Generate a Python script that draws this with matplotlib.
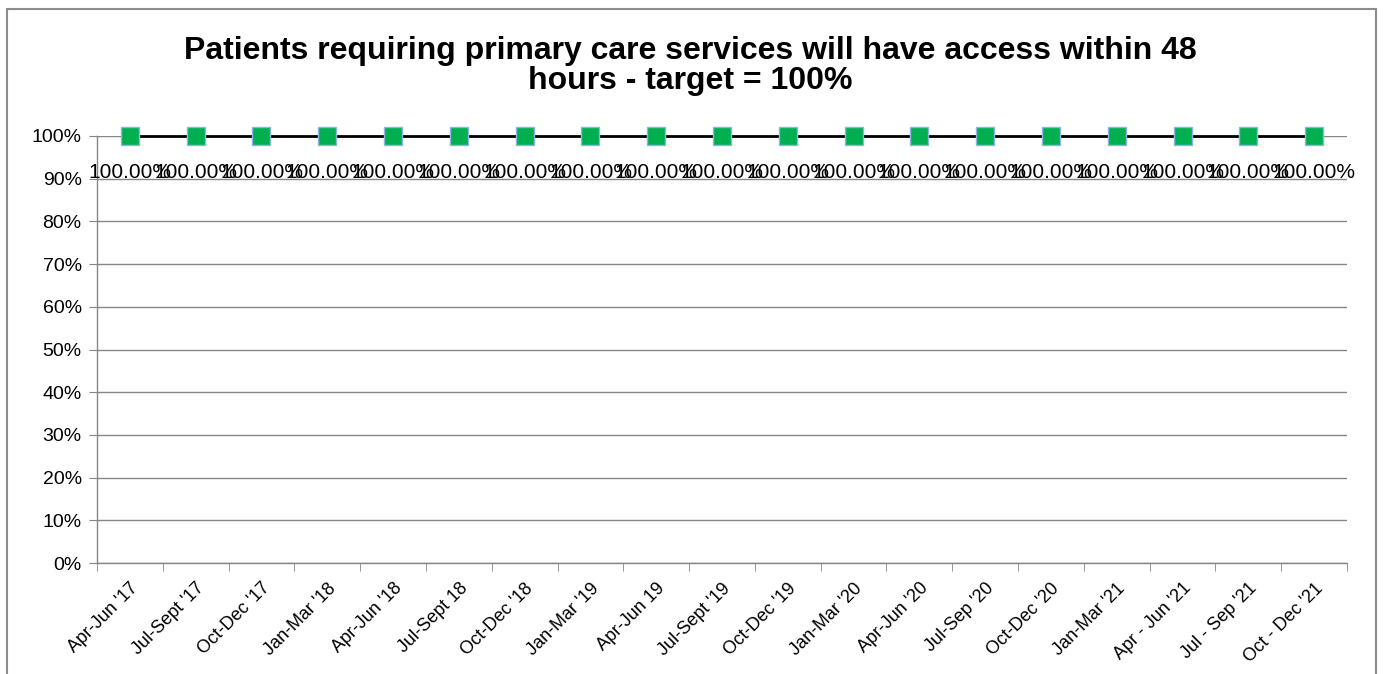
import matplotlib
matplotlib.use("Agg")
import matplotlib.pyplot as plt
import matplotlib.transforms as mtransforms
from matplotlib.patches import Rectangle
from matplotlib.ticker import FixedLocator

plt.rcParams['font.family'] = ['Liberation Sans', 'DejaVu Sans']

# quarter labels and values (percent)
quarters = [
    "Apr-Jun '17", "Jul-Sept '17", "Oct-Dec '17", "Jan-Mar '18", "Apr-Jun '18",
    "Jul-Sept 18", "Oct-Dec '18", "Jan-Mar '19", "Apr-Jun 19", "Jul-Sept '19",
    "Oct-Dec '19", "Jan-Mar '20", "Apr-Jun '20", "Jul-Sep '20", "Oct-Dec '20",
    "Jan-Mar '21", "Apr - Jun '21", "Jul - Sep '21", "Oct - Dec '21",
]
values = [100.0] * 19
y_ticks = [0, 10, 20, 30, 40, 50, 60, 70, 80, 90, 100]
title = "Patients requiring primary care services will have access within 48\nhours - target = 100%"

W, H = 1383, 674
fig = plt.figure(figsize=(W / 100, H / 100), dpi=100)
ax = fig.add_axes([97 / W, 1 - 563 / H, (1347 - 97) / W, (563 - 136) / H])

x = list(range(len(quarters)))
ax.plot(x, values, color='black', lw=2, marker='s', markersize=13,
        markerfacecolor='#00B050', markeredgecolor='#8EB4E3', markeredgewidth=1,
        zorder=4, clip_on=False)

for xi, v in zip(x, values):
    ax.annotate(f"{v:.2f}%", (xi, v), xytext=(0, -26), textcoords='offset points',
                ha='center', va='center', fontsize=15, zorder=5)

ax.set_xlim(-0.5, len(quarters) - 0.5)
ax.set_ylim(0, 100)
ax.set_yticks(y_ticks)
ax.set_yticklabels([f"{t}%" for t in y_ticks], fontsize=14)
ax.yaxis.grid(True, color='#868686', lw=1)
ax.set_axisbelow(True)

ax.set_xticks(x)
ax.set_xticklabels(quarters, rotation=45, ha='right', va='top',
                   rotation_mode='anchor', fontsize=13)
# nudge the slanted labels a little to the left
shift = mtransforms.ScaledTranslation(-4 / 100, 0, fig.dpi_scale_trans)
for lbl in ax.get_xticklabels():
    lbl.set_transform(lbl.get_transform() + shift)
ax.xaxis.set_minor_locator(FixedLocator([i - 0.5 for i in range(len(quarters) + 1)]))
ax.tick_params(axis='x', which='major', length=0, pad=12)
ax.tick_params(axis='x', which='minor', length=6, color='#868686')
ax.tick_params(axis='y', length=6, color='#868686', pad=5)

for s in ['top', 'right']:
    ax.spines[s].set_visible(False)
for s in ['left', 'bottom']:
    ax.spines[s].set_color('#868686')
    ax.spines[s].set_linewidth(1)

fig.text(690 / W, 1 - 66 / H, title, ha='center', va='center', fontsize=23,
         fontweight='bold', linespacing=1.04)

fig.patches.append(Rectangle((7 / W, -0.05), (1376 - 7) / W, 1 - 9 / H + 0.05,
                             transform=fig.transFigure, fill=False,
                             edgecolor='#8C8C8C', lw=1.5))

fig.savefig("out.png", dpi=100)
